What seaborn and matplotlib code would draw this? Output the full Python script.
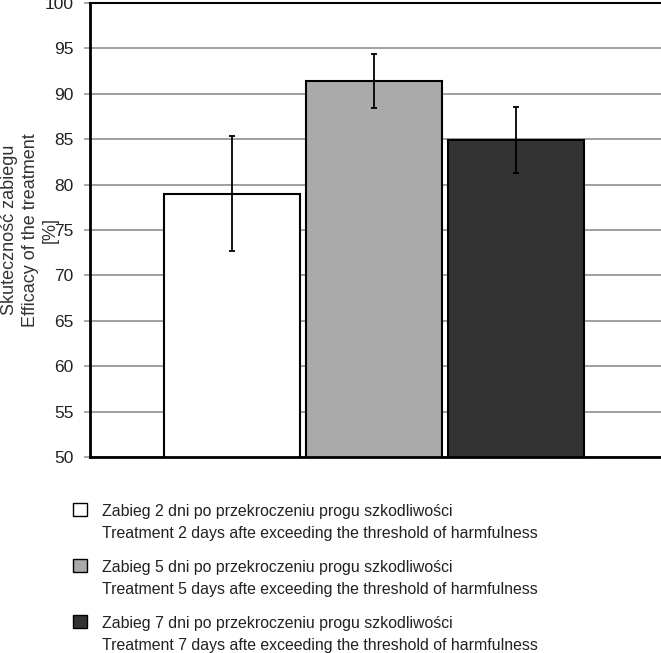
import numpy as np
import pandas as pd
import matplotlib
matplotlib.use("Agg")
import matplotlib.pyplot as plt
import matplotlib.patches as mpatches
from matplotlib.legend_handler import HandlerPatch
import seaborn as sns

# values
treatments = [
    "Zabieg 2 dni po przekroczeniu progu szkodliwości\nTreatment 2 days afte exceeding the threshold of harmfulness",
    "Zabieg 5 dni po przekroczeniu progu szkodliwości\nTreatment 5 days afte exceeding the threshold of harmfulness",
    "Zabieg 7 dni po przekroczeniu progu szkodliwości\nTreatment 7 days afte exceeding the threshold of harmfulness",
]
efficacy = [79.0, 91.4, 84.9]
errors = [6.3, 2.95, 3.65]
bar_colors = ["#FFFFFF", "#AAAAAA", "#333333"]
y_ticks = [50, 55, 60, 65, 70, 75, 80, 85, 90, 95, 100]
y_label = "Skuteczność zabiegu\nEfficacy of the treatment\n[%]"

sns.set_style("white")
plt.rcParams["font.family"] = ["Liberation Sans", "DejaVu Sans"]

df = pd.DataFrame({"group": [""] * len(treatments),
                   "treatment": treatments,
                   "efficacy": efficacy})

fig = plt.figure(figsize=(6.61, 6.53), dpi=100)
ax = fig.add_axes([90 / 661, 1 - 457 / 653, 571 / 661, 454 / 653])

sns.barplot(data=df, x="group", y="efficacy", hue="treatment",
            palette=dict(zip(treatments, bar_colors)), hue_order=treatments,
            width=0.746, gap=0.042, edgecolor="black", linewidth=1.5,
            errorbar=None, legend=False, ax=ax)
bar_containers = list(ax.containers)

# error bars at the centre of each bar
for container, err in zip(bar_containers, errors):
    for bar in container.patches:
        xc = bar.get_x() + bar.get_width() / 2
        ax.errorbar(xc, bar.get_height(), yerr=err, fmt="none",
                    ecolor="black", elinewidth=1.3, capsize=2.2, capthick=1.3)

ax.set_xlim(-0.498, 0.502)
ax.set_ylim(50, 100)
ax.set_yticks(y_ticks)
ax.set_xticks([])
ax.set_xlabel("")
ax.yaxis.grid(True, color="#999999", linewidth=1.3)
ax.set_axisbelow(True)
ax.tick_params(axis="y", which="major", left=True, length=4, width=1.2,
               color="#999999", labelsize=12.5, labelcolor="#222222", pad=8)

for side in ["left", "bottom", "top"]:
    ax.spines[side].set_color("black")
ax.spines["left"].set_linewidth(2)
ax.spines["bottom"].set_linewidth(2)
ax.spines["top"].set_linewidth(1.5)
ax.spines["right"].set_visible(False)

ax.set_ylabel(y_label, fontsize=13, color="#333333", linespacing=1.27)
ax.yaxis.set_label_coords(-0.054, 0.5)


def raised_square(legend, orig_handle, xdescent, ydescent, width, height, fontsize):
    # put the swatch next to the first line of a two-line label
    return mpatches.Rectangle((-xdescent, -ydescent + 9.8), width, height)


handles = [mpatches.Patch(facecolor=c.patches[0].get_facecolor(),
                          edgecolor="black", linewidth=1.0)
           for c in bar_containers]
leg = fig.legend(handles, treatments, loc="upper left",
                 bbox_to_anchor=(73 / 661, 1 - 504 / 653),
                 frameon=False, fontsize=11.4, borderpad=0, borderaxespad=0,
                 handlelength=0.88, handleheight=0.88, handletextpad=0.95,
                 labelspacing=1.2,
                 handler_map={mpatches.Patch: HandlerPatch(patch_func=raised_square)})
for t in leg.get_texts():
    t.set_color("#222222")
    t.set_linespacing(1.59)

fig.savefig("out.png", dpi=100)
